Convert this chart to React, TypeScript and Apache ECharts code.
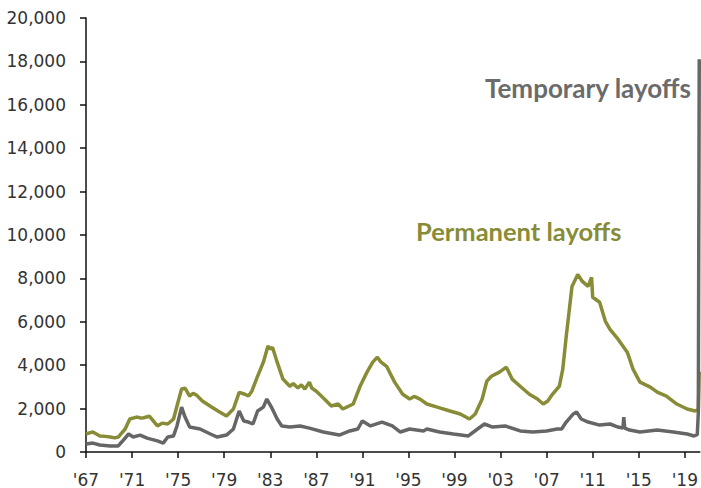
import React, { useEffect, useRef } from "react";
import * as echarts from "echarts";

// Permanent layoffs (thousands of persons)
const permYears = [
  1967.0, 1967.3, 1967.6, 1968.2, 1968.7, 1969.1, 1969.5, 1969.8, 1970.4, 1970.8, 1971.4, 1971.8,
  1972.0, 1972.5, 1973.2, 1973.6, 1974.1, 1974.6, 1974.9, 1975.3, 1975.6, 1976.0, 1976.3, 1976.6,
  1977.1, 1977.9, 1978.6, 1979.2, 1979.8, 1980.3, 1980.8, 1981.1, 1981.4, 1981.8, 1982.4, 1982.8,
  1983.0, 1983.2, 1983.6, 1984.1, 1984.7, 1985.0, 1985.4, 1985.7, 1986.0, 1986.4, 1986.6, 1987.0,
  1987.7, 1988.3, 1988.9, 1989.3, 1990.2, 1990.8, 1991.4, 1991.9, 1992.3, 1992.6, 1993.1, 1993.8,
  1994.5, 1995.1, 1995.5, 1996.0, 1996.6, 1997.5, 1998.6, 1999.5, 2000.3, 2000.8, 2001.4, 2001.8,
  2002.2, 2002.9, 2003.5, 2004.0, 2004.7, 2005.5, 2006.2, 2006.7, 2007.1, 2007.5, 2008.1, 2008.4,
  2008.7, 2009.2, 2009.7, 2010.1, 2010.6, 2010.9, 2011.0, 2011.6, 2012.1, 2012.5, 2013.2, 2014.0,
  2014.5, 2015.1, 2016.0, 2016.6, 2017.4, 2018.3, 2019.2, 2019.9, 2020.17, 2020.25,
];
const permValues = [
  830, 880, 920, 740, 720, 690, 650, 690, 1060, 1520, 1610, 1560,
  1580, 1650, 1200, 1330, 1290, 1520, 2120, 2900, 2940, 2580, 2700, 2620,
  2350, 2070, 1840, 1660, 1980, 2750, 2660, 2580, 2800, 3360, 4140, 4880,
  4750, 4820, 4140, 3360, 3030, 3150, 2950, 3100, 2900, 3220, 2950, 2800,
  2440, 2120, 2210, 1980, 2210, 3030, 3680, 4140, 4370, 4150, 3950, 3220,
  2660, 2440, 2560, 2440, 2210, 2070, 1890, 1750, 1520, 1750, 2440, 3260,
  3490, 3680, 3910, 3360, 3030, 2660, 2440, 2210, 2350, 2660, 3030, 3820,
  5330, 7630, 8180, 7860, 7630, 8050, 7130, 6900, 6020, 5650, 5200, 4600,
  3820, 3220, 2990, 2760, 2580, 2210, 1980, 1890, 1950, 3700,
];

// Temporary layoffs (thousands of persons)
const tempYears = [
  1967.0, 1967.6, 1968.2, 1969.1, 1969.8, 1970.1, 1970.7, 1971.1, 1971.7, 1972.3, 1973.2, 1973.7,
  1974.1, 1974.6, 1974.9, 1975.3, 1975.6, 1976.0, 1976.9, 1977.8, 1978.4, 1979.2, 1979.8, 1980.3,
  1980.7, 1981.1, 1981.5, 1981.9, 1982.4, 1982.7, 1983.1, 1983.6, 1984.0, 1984.7, 1985.6, 1986.4,
  1987.6, 1989.0, 1989.9, 1990.6, 1991.0, 1991.7, 1992.7, 1993.6, 1994.3, 1995.1, 1996.3, 1996.6,
  1997.7, 1998.9, 2000.2, 2001.0, 2001.6, 2002.3, 2003.4, 2004.7, 2005.8, 2007.0, 2007.9, 2008.3,
  2008.7, 2009.3, 2009.6, 2010.0, 2010.6, 2011.6, 2012.5, 2013.2, 2013.62, 2013.7, 2013.78, 2014.2,
  2015.1, 2016.6, 2018.0, 2019.2, 2019.8, 2020.08, 2020.17, 2020.25,
];
const tempValues = [
  370, 410, 320, 280, 280, 460, 830, 690, 780, 640, 510, 410,
  690, 740, 1200, 2070, 1610, 1150, 1060, 830, 690, 780, 1060, 1890,
  1430, 1380, 1290, 1890, 2070, 2440, 2070, 1520, 1200, 1150, 1200, 1100,
  920, 780, 970, 1060, 1430, 1200, 1380, 1200, 920, 1060, 970, 1060,
  920, 830, 740, 1060, 1290, 1150, 1200, 970, 920, 970, 1060, 1060,
  1380, 1750, 1840, 1520, 1380, 1240, 1290, 1150, 1100, 1610, 1100, 1010,
  920, 1010, 920, 830, 740, 800, 1800, 18100,
];

const xTickYears = [1967, 1971, 1975, 1979, 1983, 1987, 1991, 1995, 1999, 2003, 2007, 2011, 2015, 2019];

const GREEN = "#898c36";
const GRAY = "#666666";
const AXIS_FONT = "DejaVu Sans";

const withCommas = (v: number) => String(v).replace(/\B(?=(\d{3})+(?!\d))/g, ",");

export default function App() {
  const ref = useRef<HTMLDivElement>(null);

  useEffect(() => {
    if (!ref.current) return;
    const chart = echarts.init(ref.current, undefined, { renderer: "svg" });
    chart.setOption({
      animation: false,
      backgroundColor: "#ffffff",
      grid: { left: 86, right: 1, top: 18, bottom: 35 },
      xAxis: {
        type: "value",
        min: 1967,
        max: 2020.3,
        splitLine: { show: false },
        axisLine: { show: true, onZero: false, lineStyle: { color: "#111", width: 1.5 } },
        axisTick: {
          show: true,
          length: 6,
          inside: false,
          customValues: xTickYears,
          lineStyle: { color: "#111", width: 1.5 },
        },
        axisLabel: {
          customValues: xTickYears,
          margin: 19,
          fontFamily: AXIS_FONT,
          fontSize: 17,
          color: "#333",
          formatter: (v: number) => "'" + String(Math.round(v) % 100).padStart(2, "0"),
        },
      },
      yAxis: {
        type: "value",
        min: 0,
        max: 20000,
        interval: 2000,
        splitLine: { show: false },
        axisLine: { show: true, lineStyle: { color: "#111", width: 1.5 } },
        axisTick: { show: true, length: 6, inside: false, lineStyle: { color: "#111", width: 1.5 } },
        axisLabel: {
          margin: 20,
          fontFamily: AXIS_FONT,
          fontSize: 17,
          color: "#333",
          formatter: (v: number) => withCommas(v),
        },
      },
      series: [
        {
          name: "Permanent layoffs",
          type: "line",
          showSymbol: false,
          data: permYears.map((y, i) => [y, permValues[i]]),
          lineStyle: { color: GREEN, width: 3.5 },
          itemStyle: { color: GREEN },
          z: 2,
        },
        {
          name: "Temporary layoffs",
          type: "line",
          showSymbol: false,
          data: tempYears.map((y, i) => [y, tempValues[i]]),
          lineStyle: { color: GRAY, width: 3.5 },
          itemStyle: { color: GRAY },
          z: 3,
        },
      ],
      graphic: [
        {
          type: "text",
          x: 485,
          y: 88,
          style: {
            text: "Temporary layoffs",
            fill: "#6b6b6b",
            font: "bold 26px Lato",
            align: "left",
            verticalAlign: "middle",
          },
        },
        {
          type: "text",
          x: 416,
          y: 231,
          style: {
            text: "Permanent layoffs",
            fill: GREEN,
            font: "bold 25.5px Lato",
            align: "left",
            verticalAlign: "middle",
          },
        },
      ],
    });
    return () => chart.dispose();
  }, []);

  return <div ref={ref} style={{ width: 701, height: 488, position: "fixed", left: 0, top: 0 }} />;
}
